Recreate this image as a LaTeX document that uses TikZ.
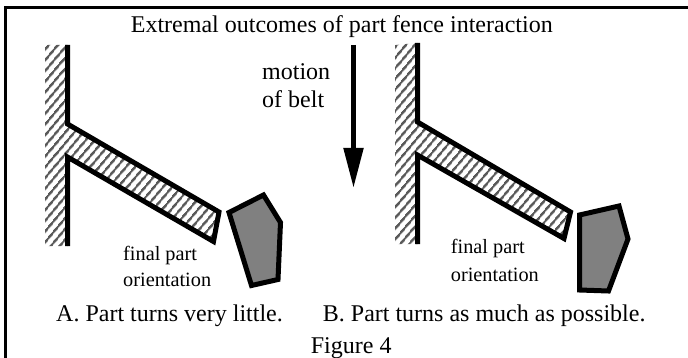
\documentclass[tikz,border=0pt]{standalone}
\usepackage{fontspec}
\setmainfont{Liberation Serif}
\usetikzlibrary{arrows.meta, patterns.meta}

\tikzset{
  heavyline/.style={line width=5pt, line cap=butt, line join=miter},
  hatchfill/.style={draw=none, pattern={Lines[angle=50, distance=6.5pt, line width=2.6pt]}, pattern color=black!65},
  partshape/.style={heavyline, fill=black!50},
  bigtext/.style={font=\fontsize{24}{28}\selectfont, inner sep=0pt, anchor=base west},
  smalltext/.style={font=\fontsize{20.3}{24}\selectfont, inner sep=0pt, anchor=base west}
}

\begin{document}
\begin{tikzpicture}[x=1pt, y=-1pt, >=Stealth]
    \useasboundingbox (0, 0) rectangle (688, 358);
    \fill[white] (0, 0) rectangle (688, 358);

    % frame, top and left only
    \draw[line width=3pt] (5.5, 358) -- (5.5, 7.5) -- (688, 7.5);

    \node[bigtext] (title) at (130.7, 32.7) {Extremal outcomes of part fence interaction};
    \node[bigtext] (motion) at (262, 80) {motion};
    \node[bigtext] (belt) at (262, 108) {of belt};

    % left fence
    \fill[hatchfill] (45, 45) -- (45, 246) -- (67.5, 246) -- (67.5, 156) -- (213.5, 241.5) -- (219, 212) -- (67.5, 124) -- (67.5, 45) -- cycle;
    \draw[heavyline] (67.5, 45) -- (67.5, 124) -- (219, 212) -- (213.5, 241.5) -- (67.5, 157) -- (67.5, 246);
    \draw[partshape] (229, 212.5) -- (263.5, 195) -- (280.5, 222.5) -- (278, 279.5) -- (251.5, 285.5) -- cycle;
    \node[smalltext] (finalA) at (123, 260) {final part};
    \node[smalltext] (orientA) at (123, 286) {orientation};

    % right fence
    \fill[hatchfill] (395, 45) -- (395, 244) -- (417.5, 244) -- (417.5, 154) -- (564, 238.5) -- (570.5, 212) -- (417.5, 122) -- (417.5, 43) -- cycle;
    \draw[heavyline] (417.5, 43) -- (417.5, 122) -- (570.5, 212) -- (564, 238.5) -- (417.5, 155) -- (417.5, 244);
    \draw[partshape] (579.5, 215) -- (619, 206) -- (628, 239) -- (608.5, 291) -- (579.5, 290) -- cycle;
    \node[smalltext] (finalB) at (450.7, 254) {final part};
    \node[smalltext] (orientB) at (450.7, 281) {orientation};

    % belt arrow
    \coordinate (beltstart) at (353.5, 45);
    \coordinate (beltend) at (353.5, 188);
    \draw[line width=5pt, -{Triangle[length=40pt, width=19pt]}] (beltstart) -- (beltend);

    \node[bigtext] (captionA) at (56, 321.7) {A. Part turns very little.};
    \node[bigtext] (captionB) at (322.7, 321.7) {B. Part turns as much as possible.};
    \node[bigtext] (figure) at (310.7, 353.3) {Figure 4};
\end{tikzpicture}
\end{document}
